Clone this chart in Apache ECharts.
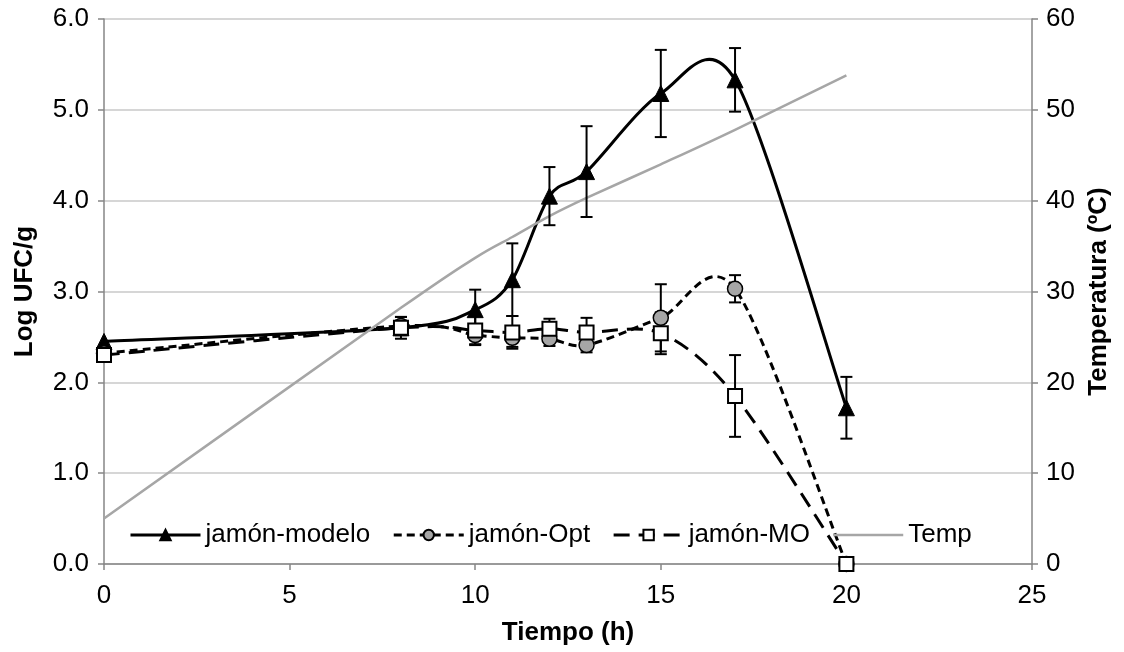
<!DOCTYPE html>
<html><head><meta charset="utf-8">
<script src="https://cdn.jsdelivr.net/npm/echarts@6/dist/echarts.min.js"></script>
<style>html,body{margin:0;padding:0;background:#fff}#c{width:1124px;height:652px}</style>
</head><body><div id="c"></div>
<script>
// ---- data ----
const times = [0, 8, 10, 11, 12, 13, 15, 17, 20];
const modelo = [2.45, 2.60, 2.80, 3.13, 4.05, 4.32, 5.18, 5.33, 1.72];
const modeloErr = [0, 0.08, 0.22, 0.40, 0.32, 0.50, 0.48, 0.35, 0.34];
const opt = [2.32, 2.62, 2.52, 2.49, 2.48, 2.41, 2.71, 3.03, 0.00];
const optErr = [0, 0.10, 0.10, 0.10, 0.08, 0.08, 0.37, 0.15, 0];
const mo = [2.30, 2.60, 2.57, 2.55, 2.59, 2.55, 2.54, 1.85, 0.00];
const moErr = [0, 0.12, 0.16, 0.18, 0.11, 0.16, 0.23, 0.45, 0];
const temp = [5.0, 28.2, 33.7, 36.0, 38.3, 40.3, 44.0, 47.8, 53.8];
const names = ['jamón-modelo', 'jamón-Opt', 'jamón-MO', 'Temp'];

const FONT = '"Liberation Sans", Arial, sans-serif';
const OPT_DASH = [8, 5];
const MO_DASH = [16, 9];
const TENSION = 0.15;

function pts(ys) { return times.map((t, i) => [t, ys[i]]); }

// smooth curve (cardinal bezier) through the data points, drawn via api.coord
function curve(ys, yAxisIndex, color, width, dash, z) {
  return {
    type: 'custom', yAxisIndex: yAxisIndex, z: z, silent: true, clip: false,
    data: pts(ys), encode: { x: 0, y: 1 },
    renderItem: function (params, api) {
      if (params.dataIndexInside !== 0) return null;
      const n = params.dataInsideLength;
      const p = [];
      for (let i = 0; i < n; i++) p.push(api.coord([api.value(0, i), api.value(1, i)]));
      let d = 'M' + p[0][0] + ',' + p[0][1];
      for (let i = 0; i < n - 1; i++) {
        const p0 = p[Math.max(i - 1, 0)], p1 = p[i], p2 = p[i + 1], p3 = p[Math.min(i + 2, n - 1)];
        const c1x = p1[0] + (p2[0] - p0[0]) * TENSION, c1y = p1[1] + (p2[1] - p0[1]) * TENSION;
        const c2x = p2[0] - (p3[0] - p1[0]) * TENSION, c2y = p2[1] - (p3[1] - p1[1]) * TENSION;
        d += ' C' + c1x + ',' + c1y + ' ' + c2x + ',' + c2y + ' ' + p2[0] + ',' + p2[1];
      }
      return {
        type: 'path', shape: { pathData: d },
        style: { fill: 'none', stroke: color, lineWidth: width, lineDash: dash || null, lineCap: 'butt', lineJoin: 'round' }
      };
    }
  };
}

function errBars(ys, errs, z) {
  return {
    type: 'custom', z: z, silent: true, clip: false,
    data: times.map((t, i) => [t, ys[i], errs[i]]), encode: { x: 0, y: 1 },
    renderItem: function (params, api) {
      const x = api.value(0), y = api.value(1), e = api.value(2);
      if (!e) return null;
      const top = api.coord([x, y + e]), bot = api.coord([x, y - e]);
      const w = 6, st = { stroke: '#000', lineWidth: 2 };
      return {
        type: 'group', children: [
          { type: 'line', shape: { x1: top[0], y1: top[1], x2: bot[0], y2: bot[1] }, style: st },
          { type: 'line', shape: { x1: top[0] - w, y1: top[1], x2: top[0] + w, y2: top[1] }, style: st },
          { type: 'line', shape: { x1: bot[0] - w, y1: bot[1], x2: bot[0] + w, y2: bot[1] }, style: st }
        ]
      };
    }
  };
}

function markers(name, ys, symbol, size, itemStyle, dash, z, yAxisIndex) {
  return {
    type: 'line', name: name, yAxisIndex: yAxisIndex || 0, z: z, data: pts(ys),
    symbol: symbol, symbolSize: size, showSymbol: symbol !== 'none',
    itemStyle: itemStyle,
    lineStyle: { width: 0, opacity: 0, type: dash || 'solid' },
    emphasis: { disabled: true }, silent: true
  };
}

const axisLineStyle = { color: '#868686', width: 1.5 };
const labelStyle = { color: '#000', fontFamily: FONT, fontSize: 26 };
const nameStyle = { color: '#000', fontFamily: FONT, fontSize: 26, fontWeight: 'bold' };

const option = {
  animation: false,
  backgroundColor: '#fff',
  grid: { left: 104, right: 92, top: 19, bottom: 88, containLabel: false, outerBoundsMode: 'none' },
  xAxis: {
    type: 'value', min: 0, max: 25, interval: 5,
    name: 'Tiempo (h)', nameLocation: 'middle', nameGap: 56, nameTextStyle: nameStyle,
    axisLine: { show: true, onZero: false, lineStyle: axisLineStyle },
    axisTick: { show: true, length: 6, lineStyle: axisLineStyle },
    axisLabel: Object.assign({ margin: 19 }, labelStyle),
    splitLine: { show: false }
  },
  yAxis: [{
    type: 'value', min: 0, max: 6, interval: 1, position: 'left',
    name: 'Log UFC/g', nameLocation: 'middle', nameGap: 66, nameRotate: 90, nameTextStyle: nameStyle,
    axisLine: { show: true, lineStyle: axisLineStyle },
    axisTick: { show: true, length: 6, lineStyle: axisLineStyle },
    axisLabel: Object.assign({ margin: 15, formatter: v => v.toFixed(1) }, labelStyle),
    splitLine: { show: true, lineStyle: { color: '#c8c8c8', width: 1.5 } }
  }, {
    type: 'value', min: 0, max: 60, interval: 10, position: 'right',
    name: 'Temperatura (ºC)', nameLocation: 'middle', nameGap: 53, nameRotate: 90, nameTextStyle: nameStyle,
    axisLine: { show: true, lineStyle: axisLineStyle },
    axisTick: { show: true, length: 6, lineStyle: axisLineStyle },
    axisLabel: Object.assign({ margin: 14 }, labelStyle),
    splitLine: { show: false }
  }],
  legend: {
    left: 124, top: 517, itemWidth: 70, itemHeight: 13, itemGap: 22,
    textStyle: { color: '#000', fontFamily: FONT, fontSize: 26 },
    selectedMode: false,
    data: [
      { name: names[0], lineStyle: { width: 3, color: '#000', opacity: 1, type: 'solid' } },
      { name: names[1], lineStyle: { width: 3, color: '#000', opacity: 1, type: OPT_DASH } },
      { name: names[2], lineStyle: { width: 3, color: '#000', opacity: 1, type: MO_DASH } },
      { name: names[3], lineStyle: { width: 2.5, color: '#a6a6a6', opacity: 1, type: 'solid' },
        itemStyle: { color: 'rgba(0,0,0,0)', borderColor: 'rgba(0,0,0,0)', borderWidth: 0 } }
    ]
  },
  series: [
    curve(modelo, 0, '#000', 3, null, 1),
    curve(opt, 0, '#000', 3, OPT_DASH, 1),
    curve(mo, 0, '#000', 3, MO_DASH, 1),
    curve(temp, 1, '#a6a6a6', 2.5, null, 2),
    errBars(modelo, modeloErr, 3),
    errBars(opt, optErr, 3),
    errBars(mo, moErr, 3),
    markers(names[0], modelo, 'triangle', 16, { color: '#000', borderColor: '#000', borderWidth: 1 }, 'solid', 4),
    markers(names[1], opt, 'circle', 15, { color: '#a6a6a6', borderColor: '#000', borderWidth: 1.5 }, OPT_DASH, 5),
    markers(names[2], mo, 'rect', 14, { color: '#fff', borderColor: '#000', borderWidth: 2 }, MO_DASH, 6),
    markers(names[3], temp, 'none', 0, { color: '#a6a6a6' }, 'solid', 2, 1)
  ]
};

const chart = echarts.init(document.getElementById('c'), null, { renderer: 'canvas' });
chart.setOption(option);
</script>
</body></html>
